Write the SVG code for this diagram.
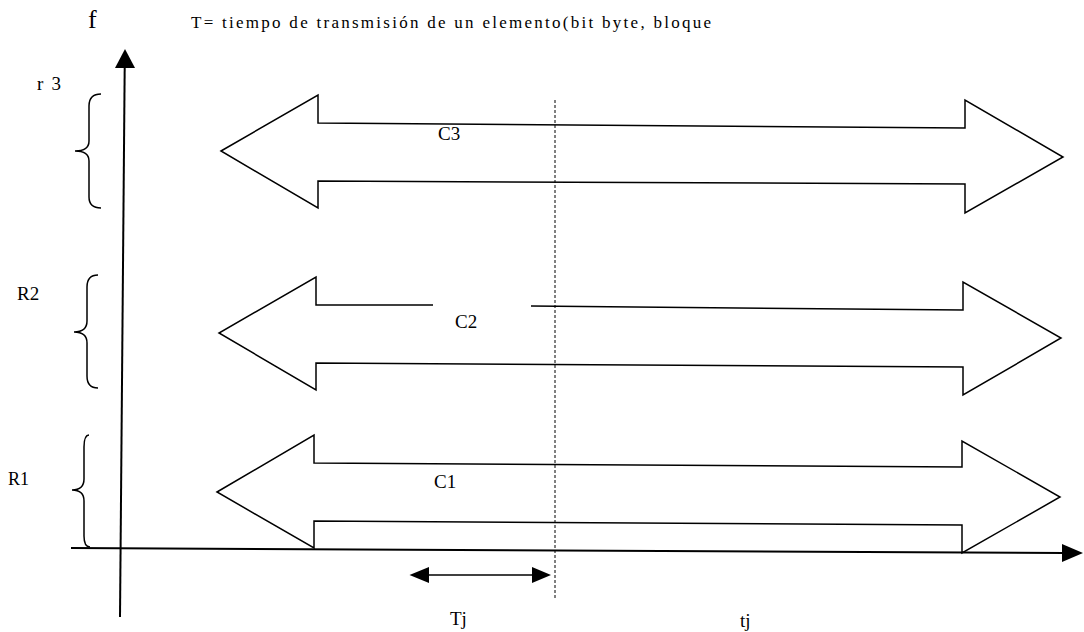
<svg xmlns="http://www.w3.org/2000/svg" width="1084" height="632" viewBox="0 0 1084 632">
<style>
.bg{fill:#ffffff}
.blk{fill:#ffffff;stroke:#000;stroke-width:1.5;stroke-linejoin:miter}
.ln{fill:none;stroke:#000;stroke-width:1.5}
.ax{fill:none;stroke:#000;stroke-width:2}
.hd{fill:#000;stroke:none}
.dot{fill:none;stroke:#000;stroke-width:1;stroke-dasharray:3,2}
.br{fill:none;stroke:#000;stroke-width:1.5}
.t{font-family:"Liberation Serif","Times New Roman",serif;fill:#000}
</style>
<rect class="bg" x="0" y="0" width="1084" height="632"/>
<g id="title">
<text class="t" x="88" y="28" font-size="26">f</text>
<text class="t" x="191" y="28" font-size="17" textLength="520" lengthAdjust="spacing">T=  tiempo de transmisión  de un elemento(bit byte, bloque</text>
</g>
<g id="c3">
<polygon class="blk" points="221,151 318,95 318,123 965,128 965,100 1063,157 965,213 965,184 318,181 318,208"/>
<text class="t" x="438" y="140" font-size="19">C3</text>
</g>
<g id="c2">
<path class="blk" d="M433,305 L316,305 L316,277 L219,333 L316,390 L316,363 L963,367 L963,395 L1061,338 L963,282 L963,310 L531,306"/>
<text class="t" x="455" y="328" font-size="19">C2</text>
</g>
<g id="c1">
<polygon class="blk" points="217,492 314,435 314,463 962,467 962,441 1060,497 962,553 962,525 314,521 314,548"/>
<text class="t" x="434" y="488" font-size="19">C1</text>
</g>
<g id="braces">
<path class="br" d="M101,94 C93,94 89,98 89,106 L89,141 C89,147 85,151 75,151 C85,151 89,155 89,161 L89,197 C89,204 93,208 101,208"/>
<text class="t" x="37" y="90" font-size="19" textLength="24" lengthAdjust="spacing">r 3</text>
<path class="br" d="M98,275 C90,275 87,279 87,287 L87,321 C87,328 83,332 74,332 C83,332 87,336 87,343 L87,376 C87,384 90,388 98,388"/>
<text class="t" x="17" y="300" font-size="19">R2</text>
<path class="br" d="M89,435 C86,435 84,439 84,447 L84,479 C84,486 80,490 72,490 C80,490 84,494 84,501 L84,536 C84,543 86,547 90,547"/>
<text class="t" x="8" y="485" font-size="18">R1</text>
</g>
<g id="connectors">
<line class="dot" x1="555" y1="100" x2="555" y2="599"/>
<line class="ax" x1="71" y1="548" x2="1064" y2="553"/>
<polygon class="hd" points="1062,544 1083,553 1062,562"/>
<line class="ax" x1="120" y1="617" x2="124.7" y2="66"/>
<polygon class="hd" points="115,68 125,49 135,68"/>
<line class="ln" x1="426" y1="575" x2="534" y2="575"/>
<polygon class="hd" points="429,567 409.5,575 429,583"/>
<polygon class="hd" points="532,567 551,575 532,583"/>
</g>
<g id="axis-labels">
<text class="t" x="450" y="625" font-size="19">Tj</text>
<text class="t" x="740" y="627" font-size="19">tj</text>
</g>
</svg>
